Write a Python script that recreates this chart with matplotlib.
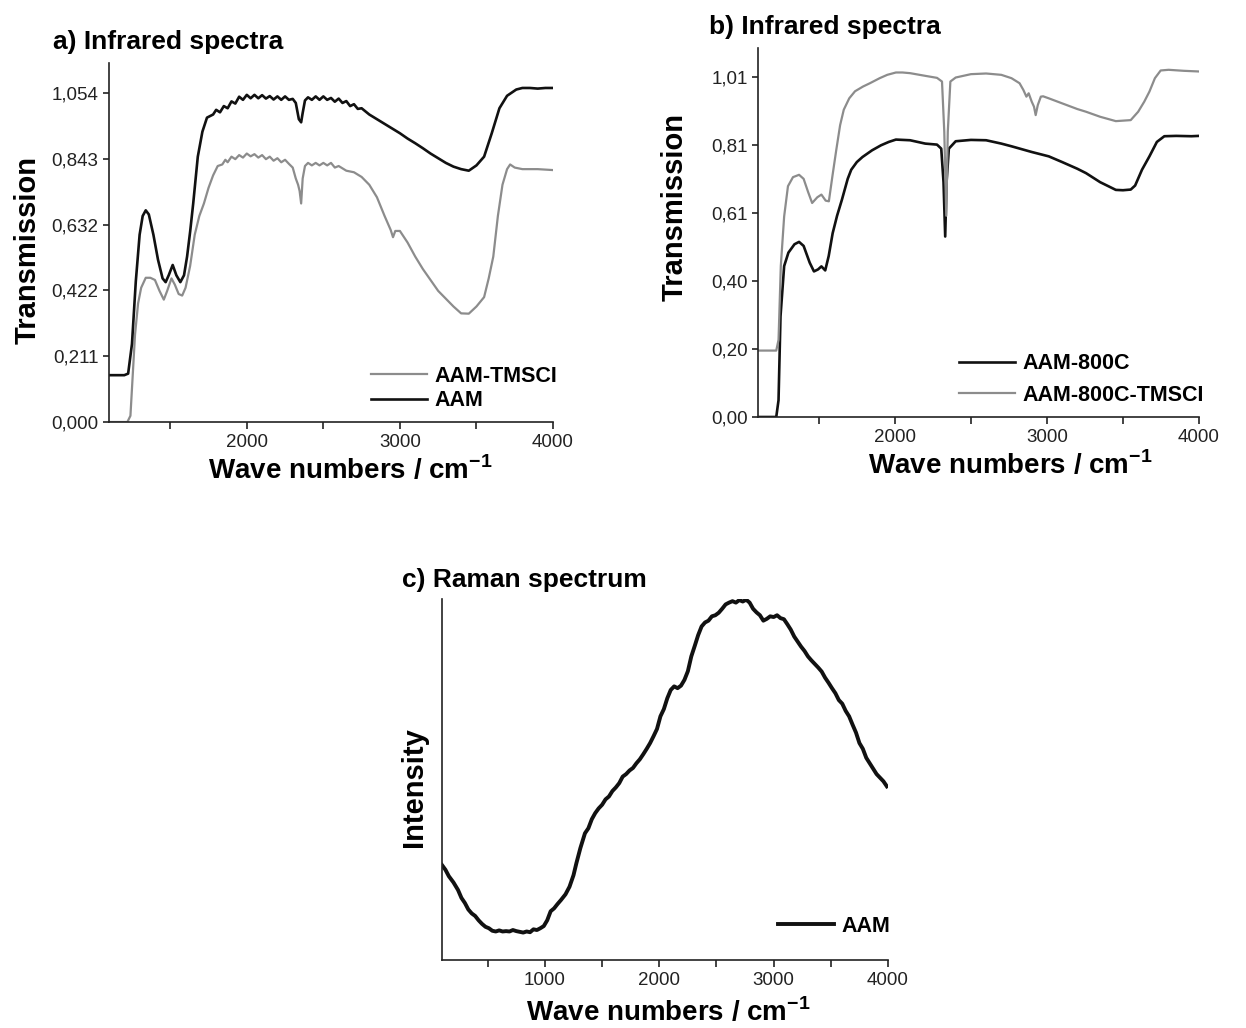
import matplotlib.pyplot as plt

plt.rcParams['font.family'] = ['Liberation Sans', 'DejaVu Sans']
plt.rcParams['mathtext.fontset'] = 'custom'
plt.rcParams['mathtext.bf'] = 'Liberation Sans:bold'
plt.rcParams['mathtext.rm'] = 'Liberation Sans'

# ---- panel a: infrared spectra ----
a_aam_x = [1100, 1200, 1225, 1250, 1275, 1300, 1320, 1340, 1360, 1390, 1420, 1450, 1470, 1490, 1516,
           1540, 1566, 1590, 1610, 1630, 1650, 1680, 1710, 1740, 1760, 1780,
           1800, 1825, 1850, 1875, 1900, 1925, 1950, 1975, 2000, 2025, 2050, 2075, 2100, 2125, 2150,
           2175, 2200, 2225, 2250, 2275, 2300, 2320, 2340, 2355, 2365, 2380, 2400, 2425, 2450, 2475,
           2500, 2525, 2550, 2575, 2600, 2625, 2650, 2675, 2700, 2725, 2750, 2800, 2850, 2900, 2950,
           3000, 3050, 3100, 3150, 3200, 3250, 3300, 3350, 3400, 3450, 3500, 3550, 3600, 3650, 3700,
           3760, 3800, 3850, 3900, 3950, 4000]
a_aam_y = [0.150, 0.150, 0.155, 0.25, 0.45, 0.60, 0.66, 0.678, 0.665, 0.60, 0.52, 0.46, 0.448, 0.47, 0.503,
           0.47, 0.448, 0.47, 0.53, 0.61, 0.70, 0.85, 0.93, 0.975, 0.98, 0.985,
           1.00, 0.992, 1.012, 1.005, 1.027, 1.02, 1.042, 1.032, 1.048, 1.037, 1.048, 1.037, 1.047, 1.036, 1.044,
           1.033, 1.043, 1.032, 1.043, 1.032, 1.035, 1.022, 0.97, 0.96, 0.99, 1.03, 1.04, 1.032, 1.043, 1.032,
           1.043, 1.032, 1.038, 1.026, 1.036, 1.022, 1.028, 1.012, 1.018, 1.003, 1.005, 0.985, 0.97, 0.955, 0.94,
           0.925, 0.908, 0.893, 0.877, 0.86, 0.845, 0.83, 0.818, 0.81, 0.805, 0.822, 0.85, 0.925, 1.005, 1.045,
           1.065, 1.07, 1.07, 1.068, 1.07, 1.07]

a_tms_x = [1100, 1220, 1240, 1255, 1270, 1290, 1310, 1340, 1370, 1400, 1430, 1458, 1480, 1508, 1530,
           1555, 1578, 1600, 1630, 1660, 1690, 1720, 1750, 1780, 1810, 1840, 1860,
           1875, 1900, 1925, 1950, 1975, 2000, 2025, 2050, 2075, 2100, 2125, 2150, 2175, 2200, 2225,
           2250, 2275, 2300, 2320, 2335, 2345, 2355, 2365, 2380, 2400, 2425, 2450, 2475, 2500, 2525,
           2550, 2575, 2600, 2650, 2700, 2750, 2800, 2850, 2900, 2940, 2955, 2970, 3000, 3050, 3100,
           3150, 3200, 3250, 3300, 3350, 3400, 3450, 3500, 3550, 3580, 3610, 3640, 3670, 3700, 3720,
           3750, 3800, 3900, 4000]
a_tms_y = [0.0, 0.0, 0.02, 0.15, 0.28, 0.38, 0.43, 0.462, 0.462, 0.455, 0.42, 0.392, 0.42, 0.46, 0.44,
           0.41, 0.405, 0.43, 0.50, 0.60, 0.66, 0.70, 0.75, 0.79, 0.82, 0.825, 0.84,
           0.832, 0.85, 0.842, 0.855, 0.847, 0.86, 0.851, 0.858, 0.847, 0.855, 0.842, 0.85, 0.837, 0.845, 0.832,
           0.84, 0.827, 0.815, 0.78, 0.76, 0.74, 0.70, 0.78, 0.82, 0.83, 0.822, 0.83, 0.822, 0.83, 0.822,
           0.83, 0.815, 0.82, 0.805, 0.80, 0.785, 0.76, 0.72, 0.66, 0.615, 0.592, 0.612, 0.612, 0.575, 0.53,
           0.49, 0.455, 0.42, 0.395, 0.37, 0.348, 0.347, 0.37, 0.40, 0.46, 0.53, 0.66, 0.76, 0.81, 0.825,
           0.815, 0.81, 0.81, 0.807]

a_yticks = [0.0, 0.2108, 0.4216, 0.6324, 0.8432, 1.054]
a_ylabels = ['0,000', '0,211', '0,422', '0,632', '0,843', '1,054']

# ---- panel b: infrared spectra ----
b_800_x = [1100, 1220, 1235, 1248, 1272, 1300, 1340, 1370, 1400, 1440, 1468, 1495, 1517, 1542, 1565,
           1591, 1620, 1652, 1690, 1713, 1750, 1787, 1850, 1909, 1960, 2007, 2100, 2200, 2277, 2305,
           2320, 2331, 2340, 2355, 2400, 2500, 2600, 2700, 2767, 2900, 3012, 3100, 3200, 3257, 3350,
           3404, 3453, 3500, 3551, 3580, 3625, 3674, 3723, 3772, 3850, 3950, 4000]
b_800_y = [0.0, 0.0, 0.05, 0.30, 0.45, 0.49, 0.515, 0.522, 0.51, 0.46, 0.434, 0.44, 0.449, 0.437, 0.48,
           0.548, 0.60, 0.648, 0.71, 0.737, 0.76, 0.775, 0.795, 0.81, 0.82, 0.827, 0.825, 0.815, 0.812, 0.80,
           0.70, 0.538, 0.70, 0.80, 0.822, 0.826, 0.825, 0.815, 0.807, 0.79, 0.777, 0.76, 0.74, 0.727, 0.70,
           0.688, 0.677, 0.676, 0.678, 0.69, 0.737, 0.777, 0.82, 0.837, 0.838, 0.837, 0.838]

b_tms_x = [1100, 1220, 1235, 1250, 1272, 1297, 1330, 1370, 1400, 1430, 1456, 1490, 1517, 1545, 1566,
           1590, 1615, 1640, 1664, 1700, 1738, 1790, 1836, 1900, 1950, 2007, 2050, 2100, 2200, 2277,
           2310, 2325, 2338, 2348, 2365, 2400, 2500, 2600, 2700, 2767, 2820, 2845, 2865, 2880, 2900,
           2915, 2926, 2940, 2960, 2975, 3012, 3100, 3200, 3257, 3350, 3453, 3551, 3600, 3640, 3674,
           3710, 3748, 3800, 3900, 4000]
b_tms_y = [0.198, 0.198, 0.23, 0.45, 0.598, 0.688, 0.715, 0.722, 0.71, 0.67, 0.638, 0.655, 0.663, 0.645, 0.643,
           0.72, 0.797, 0.87, 0.916, 0.95, 0.971, 0.985, 0.995, 1.01, 1.02, 1.027, 1.027, 1.025, 1.017, 1.011,
           1.0, 0.85, 0.60, 0.85, 1.0, 1.012, 1.022, 1.024, 1.02, 1.01, 0.995, 0.975, 0.955, 0.965, 0.94,
           0.925, 0.90, 0.93, 0.955, 0.956, 0.95, 0.935, 0.918, 0.91, 0.895, 0.882, 0.885, 0.91, 0.94, 0.97,
           1.01, 1.033, 1.035, 1.032, 1.03]

b_yticks = [0.0, 0.2025, 0.405, 0.6075, 0.81, 1.0125]
b_ylabels = ['0,00', '0,20', '0,40', '0,61', '0,81', '1,01']

# ---- panel c: raman spectrum (wave number, relative intensity) ----
c_points = [
    (100, .263), (130, .25), (160, .232), (200, .215), (240, .194), (270, .172), (300, .158),
    (330, .14), (360, .129), (390, .122), (420, .11), (450, .1), (480, .092), (510, .088),
    (540, .081), (570, .079), (600, .082), (630, .079), (660, .08), (690, .079), (720, .083),
    (750, .08), (780, .078), (810, .076), (840, .079), (870, .077), (900, .085), (930, .083),
    (960, .088), (990, .094), (1020, .11), (1050, .135), (1080, .143), (1110, .155), (1140, .166),
    (1180, .182), (1215, .203), (1250, .235), (1275, .268), (1310, .31), (1350, .351), (1380, .365),
    (1410, .39), (1440, .407), (1470, .42), (1500, .43), (1530, .445), (1560, .453), (1590, .468),
    (1620, .478), (1650, .49), (1680, .508), (1710, .515), (1740, .525), (1770, .532), (1800, .545),
    (1830, .556), (1860, .57), (1890, .585), (1920, .601), (1950, .62), (1980, .64), (2010, .675),
    (2040, .695), (2070, .725), (2100, .748), (2130, .758), (2160, .753), (2190, .76), (2220, .776),
    (2250, .8), (2280, .841), (2310, .87), (2340, .9), (2370, .924), (2400, .935), (2430, .94),
    (2460, .952), (2490, .955), (2520, .962), (2550, .973), (2580, .985), (2610, .99), (2640, .994),
    (2670, .99), (2700, .997), (2730, .993), (2760, .998), (2790, .99), (2820, .973), (2850, .963),
    (2880, .955), (2910, .94), (2940, .945), (2970, .952), (3000, .95), (3030, .955), (3060, .947),
    (3090, .944), (3120, .93), (3150, .915), (3180, .896), (3210, .882), (3240, .868), (3270, .856),
    (3300, .841), (3330, .83), (3360, .82), (3390, .81), (3420, .799), (3450, .782), (3480, .768),
    (3510, .753), (3540, .739), (3570, .72), (3600, .71), (3630, .69), (3660, .675), (3690, .652),
    (3720, .63), (3750, .601), (3780, .585), (3810, .56), (3840, .545), (3870, .53), (3900, .515),
    (3930, .505), (3960, .495), (3990, .481),
]
c_x = [p[0] for p in c_points]
c_y = [p[1] for p in c_points]

W, H = 1246, 1028
fig = plt.figure(figsize=(W / 100, H / 100), dpi=100)
BLACK = '#111111'
GRAY = '#8c8c8c'


def add_ax(l, t, r, b):
    return fig.add_axes([l / W, 1 - b / H, (r - l) / W, (b - t) / H])


def style(ax):
    for s in ['top', 'right']:
        ax.spines[s].set_visible(False)
    for s in ['left', 'bottom']:
        ax.spines[s].set_linewidth(1.2)
        ax.spines[s].set_color('#222222')
    ax.tick_params(which='both', direction='out', length=5, width=1.2, labelsize=13.5,
                   colors='#222222')
    ax.tick_params(axis='y', length=4)


def ftext(x, y, s, **kw):
    fig.text(x / W, 1 - y / H, s, **kw)


xlab = r'Wave numbers / cm$^{\mathbf{-1}}$'
leg_prop = {'weight': 'bold', 'size': 15.5}

# panel a
ax = add_ax(109, 63, 553, 422)
ax.plot(a_tms_x, a_tms_y, color=GRAY, lw=1.6, label='AAM-TMSCI')
ax.plot(a_aam_x, a_aam_y, color=BLACK, lw=1.9, label='AAM')
ax.set_xlim(1100, 4000)
ax.set_ylim(0, 1.15)
ax.set_xticks([2000, 3000, 4000])
ax.set_xticks([1500, 2500, 3500], minor=True)
ax.set_yticks(a_yticks)
ax.set_yticklabels(a_ylabels)
style(ax)
ax.legend(loc='lower right', bbox_to_anchor=(1.01, 0.03), frameon=False, prop=leg_prop,
          handlelength=2.6, handletextpad=0.35, labelspacing=0.15, borderpad=0, borderaxespad=0)
ftext(53, 42, 'a) Infrared spectra', fontsize=19, fontweight='bold', va='center', ha='left')
ftext(28, 250, 'Transmission', fontsize=21, fontweight='bold', rotation=90, va='center', ha='center')
ftext(350, 470, xlab, fontsize=20, fontweight='bold', va='center', ha='center')

# panel b
ax = add_ax(758, 48, 1199, 417)
ax.plot(b_800_x, b_800_y, color=BLACK, lw=1.9, label='AAM-800C')
ax.plot(b_tms_x, b_tms_y, color=GRAY, lw=1.6, label='AAM-800C-TMSCI')
ax.set_xlim(1100, 4000)
ax.set_ylim(0, 1.10)
ax.set_xticks([2000, 3000, 4000])
ax.set_xticks([1500, 2500, 3500], minor=True)
ax.set_yticks(b_yticks)
ax.set_yticklabels(b_ylabels)
style(ax)
ax.legend(loc='lower right', bbox_to_anchor=(1.01, 0.03), frameon=False, prop=leg_prop,
          handlelength=2.6, handletextpad=0.35, labelspacing=0.5, borderpad=0, borderaxespad=0)
ftext(709, 27, 'b) Infrared spectra', fontsize=19, fontweight='bold', va='center', ha='left')
ftext(675, 207, 'Transmission', fontsize=21, fontweight='bold', rotation=90, va='center', ha='center')
ftext(1010, 465, xlab, fontsize=20, fontweight='bold', va='center', ha='center')

# panel c
ax = add_ax(442, 599, 888, 960)
ax.plot(c_x, c_y, color=BLACK, lw=2.8, label='AAM')
ax.set_xlim(100, 4000)
ax.set_ylim(0, 1.0)
ax.set_xticks([1000, 2000, 3000, 4000])
ax.set_xticks([500, 1500, 2500, 3500], minor=True)
ax.set_yticks([])
style(ax)
ax.legend(loc='lower right', bbox_to_anchor=(1.005, 0.065), frameon=False, prop=leg_prop,
          handlelength=2.6, handletextpad=0.35, borderpad=0, borderaxespad=0)
ftext(402, 580, 'c) Raman spectrum', fontsize=19, fontweight='bold', va='center', ha='left')
ftext(414, 787, 'Intensity', fontsize=21, fontweight='bold', rotation=90, va='center', ha='center')
ftext(668, 1012, xlab, fontsize=20, fontweight='bold', va='center', ha='center')

fig.savefig('out.png', dpi=100)
